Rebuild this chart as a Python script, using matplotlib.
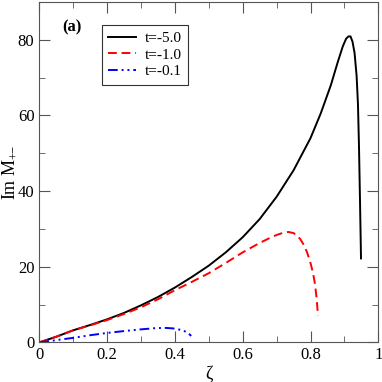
import matplotlib
matplotlib.use("Agg")
import matplotlib.pyplot as plt
from matplotlib.ticker import MultipleLocator, FuncFormatter

plt.rcParams['font.family'] = ['Liberation Serif', 'DejaVu Serif']
plt.rcParams['mathtext.fontset'] = 'custom'
plt.rcParams['mathtext.rm'] = 'Liberation Serif'

z_black = [0.0, 0.05, 0.1, 0.15, 0.2, 0.25, 0.3, 0.35, 0.4, 0.45, 0.5, 0.55, 0.6, 0.65, 0.7,
           0.75, 0.8, 0.83, 0.86, 0.88, 0.895, 0.905, 0.912, 0.918, 0.924, 0.93, 0.936,
           0.94, 0.943, 0.946, 0.949]
v_black = [0.0, 1.5, 3.2, 4.6, 6.1, 7.8, 9.8, 12.0, 14.5, 17.3, 20.3, 23.8, 27.8, 32.6, 38.5,
           45.5, 54.0, 60.5, 68.0, 74.0, 78.2, 80.3, 80.9, 80.9, 79.5, 76.5, 70.5,
           63.0, 52.0, 37.6, 22.2]

z_red = [0.0, 0.05, 0.1, 0.15, 0.2, 0.25, 0.3, 0.35, 0.4, 0.45, 0.5, 0.55, 0.6, 0.65, 0.68,
         0.7, 0.72, 0.735, 0.75, 0.76, 0.77, 0.78, 0.79, 0.80, 0.807, 0.813, 0.817, 0.820, 0.822]
v_red = [0.0, 1.5, 3.2, 4.5, 5.9, 7.5, 9.3, 11.4, 13.8, 16.0, 18.3, 21.0, 23.8, 26.3, 27.6,
         28.4, 29.0, 29.2, 28.9, 28.3, 27.3, 25.8, 23.8, 21.0, 18.5, 15.6, 12.5, 9.5, 7.0]

z_blue = [0.0, 0.05, 0.1, 0.15, 0.2, 0.25, 0.3, 0.34, 0.37, 0.395, 0.415, 0.43, 0.44, 0.448]
v_blue = [0.0, 0.6, 1.2, 1.9, 2.5, 3.0, 3.45, 3.75, 3.85, 3.7, 3.35, 2.9, 2.4, 1.7]

labels = ['t=-5.0', 't=-1.0', 't=-0.1']

fig = plt.figure(figsize=(3.82, 3.82), dpi=100)
ax = fig.add_axes([39.3/382, 1-342.4/382, (378.3-39.3)/382, (342.4-2)/382])

ax.plot(z_black, v_black, color='black', lw=1.4, label=labels[0])
ax.plot(z_red, v_red, color='red', lw=1.4, dashes=(4.5, 2.5), label=labels[1])
ax.plot(z_blue, v_blue, color='blue', lw=1.4, dashes=(5, 2, 1, 2, 1, 2), label=labels[2])

ax.set_xlim(0, 1)
ax.set_ylim(0, 90)
ax.xaxis.set_major_locator(MultipleLocator(0.2))
ax.xaxis.set_minor_locator(MultipleLocator(0.1))
ax.yaxis.set_major_locator(MultipleLocator(20))
ax.yaxis.set_minor_locator(MultipleLocator(10))
ax.xaxis.set_major_formatter(FuncFormatter(lambda v, p: f"{v:g}"))
ax.tick_params(which='both', direction='in', top=True, right=True, labelsize=12, color='#555555')
ax.tick_params(which='major', length=8)
ax.tick_params(which='minor', length=4)
for s in ax.spines.values():
    s.set_color('#555555')

ax.set_xlabel('ζ', fontsize=13, labelpad=2)
ax.set_ylabel(r'Im M$_{+\!\!-}$', fontsize=13, labelpad=0)

ax.text(0.068, 0.925, '(a)', transform=ax.transAxes, fontsize=12, fontweight='bold', va='center')

leg = ax.legend(loc='upper left', bbox_to_anchor=(0.185, 0.932), fontsize=11,
                frameon=True, fancybox=False, edgecolor='black', handlelength=1.8,
                borderpad=0.4, labelspacing=0.2, handletextpad=0.6, borderaxespad=0)
leg.get_frame().set_linewidth(0.8)

fig.savefig('out.png', dpi=100)
